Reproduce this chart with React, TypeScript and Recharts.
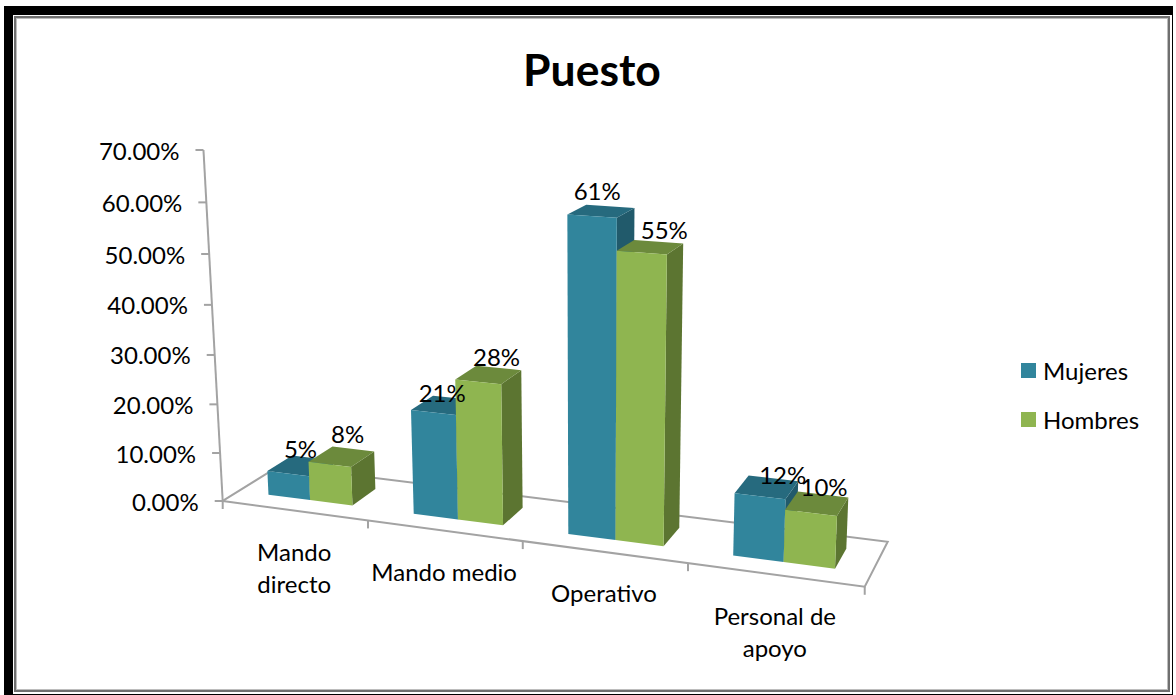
import { Bar, BarChart, Customized, LabelList, Legend, XAxis, YAxis } from "recharts";

const categories = ["Mando directo", "Mando medio", "Operativo", "Personal de apoyo"];
const mujeres = [0.05, 0.21, 0.61, 0.12];
const hombres = [0.08, 0.28, 0.55, 0.1];
const valueTicks = [0, 0.1, 0.2, 0.3, 0.4, 0.5, 0.6, 0.7];

const rows = categories.map((name, i) => ({ name, Mujeres: mujeres[i], Hombres: hombres[i] }));

const FONT = "Lato, sans-serif";
const AXIS_GRAY = "#a3a3a3";
const PLOT = { left: 223, top: 150, width: 642, height: 351 };
const YAXIS_W = 60;
const XAXIS_H = 30;
// depth of the bars inside the floor, 0 = front edge, 1 = back edge
const BAR_FRONT = 0.28;
const BAR_BACK = 0.73;

// hand placement of the value labels, per category
const mujeresLabelShift = [[-3, 0], [-5, 4], [-7, -4], [13, 4]];
const hombresLabelShift = [[3, -6], [5, -1], [11, -1], [4, 0]];

// Perspective for the 3D look: u along the categories, d into the floor, h up the value axis
function project(u: number, d: number, h: number) {
  const w = 1 - 0.1225 * u + 0.0593 * d - 0.05 * h;
  return {
    x: (222.7 + 536.1 * u + 72.8 * d - 29.4 * h) / w,
    y: (501 + 13.9 * u - 7.4 * d - 358.5 * h) / w,
  };
}

const toU = (x: number) => (x - PLOT.left) / PLOT.width;
const toH = (y: number) => (PLOT.top + PLOT.height - y) / PLOT.height;

function poly(points: { x: number; y: number }[]) {
  return points.map((p) => `${p.x},${p.y}`).join(" ");
}

function makeBar3D(front: string, top: string, side: string) {
  return function Bar3D(props: any) {
    const { x, y, width, height } = props;
    const u0 = toU(x);
    const u1 = toU(x + width);
    const h1 = toH(y);
    const h0 = toH(y + height);
    const fbl = project(u0, BAR_FRONT, h0);
    const fbr = project(u1, BAR_FRONT, h0);
    const ftl = project(u0, BAR_FRONT, h1);
    const ftr = project(u1, BAR_FRONT, h1);
    const bbr = project(u1, BAR_BACK, h0);
    const btl = project(u0, BAR_BACK, h1);
    const btr = project(u1, BAR_BACK, h1);
    return (
      <g>
        <polygon points={poly([fbr, bbr, btr, ftr])} fill={side} />
        <polygon points={poly([ftl, ftr, btr, btl])} fill={top} />
        <polygon points={poly([fbl, fbr, ftr, ftl])} fill={front} />
      </g>
    );
  };
}

function makeValueLabel(shifts: number[][]) {
  return function ValueLabel(props: any) {
    const { x, y, width, value, index } = props;
    const p = project(toU(x + width / 2), (BAR_FRONT + BAR_BACK) / 2, toH(y));
    const [dx, dy] = shifts[index] || [0, 0];
    return (
      <text
        x={p.x + 3 + dx}
        y={p.y - 17 + dy}
        textAnchor="middle"
        dominantBaseline="central"
        fontFamily={FONT}
        fontSize={24}
        fill="#000"
      >
        {`${Math.round(value * 100)}%`}
      </text>
    );
  };
}

function ValueTick(props: any) {
  const { y, payload } = props;
  const p = project(0, 0, toH(y));
  return (
    <g>
      <line x1={p.x - 8} y1={p.y} x2={p.x} y2={p.y} stroke={AXIS_GRAY} strokeWidth={2} />
      <text
        x={p.x - 24}
        y={p.y}
        textAnchor="end"
        dominantBaseline="central"
        fontFamily={FONT}
        fontSize={24}
        fill="#000"
      >
        {`${(payload.value * 100).toFixed(2)}%`}
      </text>
    </g>
  );
}

function wrapCategory(label: string) {
  if (label.length <= 11) return [label];
  const cut = label.lastIndexOf(" ");
  return [label.slice(0, cut), label.slice(cut + 1)];
}

function CategoryTick(props: any) {
  const { x, payload } = props;
  const p = project(toU(x), 0, 0);
  return (
    <text textAnchor="middle" fontFamily={FONT} fontSize={24} fill="#000">
      {wrapCategory(payload.value).map((line, i) => (
        <tspan key={line} x={p.x} y={p.y + 41 + i * 32} dominantBaseline="central">
          {line}
        </tspan>
      ))}
    </text>
  );
}

// Floor outline, value axis line, category tick marks and the title
function Floor() {
  const corners = [project(0, 0, 0), project(1, 0, 0), project(1, 1, 0), project(0, 1, 0)];
  const axisTop = project(0, 0, 1);
  const marks = [0, ...categories.map((_, i) => (i + 1) / categories.length)];
  return (
    <g>
      <text
        x={592}
        y={68}
        textAnchor="middle"
        dominantBaseline="central"
        fontFamily={FONT}
        fontWeight={700}
        fontSize={44.5}
        fill="#000"
      >
        Puesto
      </text>
      <polygon points={poly(corners)} fill="none" stroke={AXIS_GRAY} strokeWidth={2} />
      <line x1={axisTop.x} y1={axisTop.y} x2={corners[0].x} y2={corners[0].y} stroke={AXIS_GRAY} strokeWidth={2} />
      {marks.map((u) => {
        const p = project(u, 0, 0);
        return <line key={u} x1={p.x} y1={p.y} x2={p.x} y2={p.y + 8} stroke={AXIS_GRAY} strokeWidth={2} />;
      })}
    </g>
  );
}

function LegendList({ payload }: any) {
  return (
    <div style={{ fontFamily: FONT, fontSize: 24, color: "#000" }}>
      {(payload || []).map((item: any) => (
        <div key={item.value} style={{ display: "flex", alignItems: "center", height: 49 }}>
          <span style={{ width: 15, height: 15, background: item.color, marginRight: 7 }} />
          {item.value}
        </div>
      ))}
    </div>
  );
}

function Border() {
  return (
    <div
      style={{
        position: "absolute",
        left: 4,
        top: 6,
        width: 1169,
        height: 689,
        boxSizing: "border-box",
        borderStyle: "solid",
        borderColor: "#000",
        borderWidth: "9px 1px 1px 9px",
        padding: "1px 2px 2px 1px",
        background: "#fff",
      }}
    >
      <div
        style={{
          width: "100%",
          height: "100%",
          boxSizing: "border-box",
          border: "2px solid #6f6f6f",
          boxShadow: "inset 0 0 0 1px #bdbdbd",
        }}
      />
    </div>
  );
}

export default function App() {
  return (
    <div style={{ position: "absolute", left: 0, top: 0, width: 1176, height: 695, background: "#fff" }}>
      <Border />
      <div style={{ position: "absolute", left: 0, top: 0 }}>
        <BarChart
          width={1176}
          height={695}
          data={rows}
          barCategoryGap="21%"
          barGap={0}
          margin={{
            top: PLOT.top,
            left: PLOT.left - YAXIS_W,
            right: 1176 - PLOT.left - PLOT.width,
            bottom: 695 - PLOT.top - PLOT.height - XAXIS_H,
          }}
        >
          <Customized component={Floor} />
          <XAxis dataKey="name" height={XAXIS_H} axisLine={false} tickLine={false} interval={0} tick={CategoryTick} />
          <YAxis
            width={YAXIS_W}
            domain={[0, 0.7]}
            ticks={valueTicks}
            axisLine={false}
            tickLine={false}
            tick={ValueTick}
          />
          <Legend
            layout="vertical"
            align="center"
            verticalAlign="middle"
            itemSorter={null}
            content={LegendList}
            wrapperStyle={{ left: 1021, top: 346, width: 140, bottom: "auto", right: "auto" }}
          />
          <Bar dataKey="Mujeres" fill="#31859c" isAnimationActive={false} shape={makeBar3D("#31859c", "#266a7e", "#215a6b")}>
            <LabelList dataKey="Mujeres" content={makeValueLabel(mujeresLabelShift)} />
          </Bar>
          <Bar dataKey="Hombres" fill="#8fb550" isAnimationActive={false} shape={makeBar3D("#8fb550", "#6c8a3c", "#5c7531")}>
            <LabelList dataKey="Hombres" content={makeValueLabel(hombresLabelShift)} />
          </Bar>
        </BarChart>
      </div>
    </div>
  );
}
